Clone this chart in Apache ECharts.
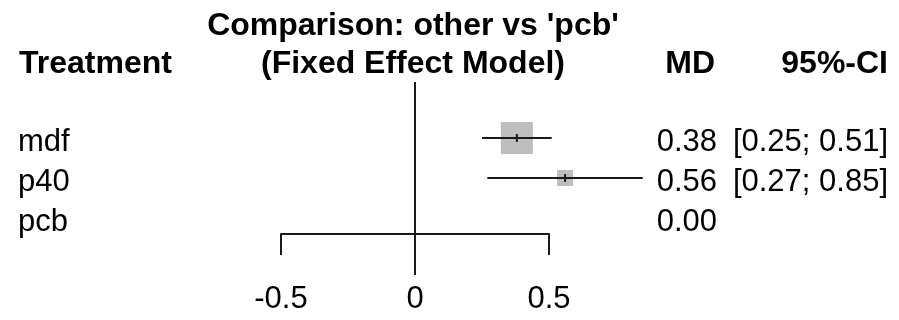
<!DOCTYPE html>
<html>
<head>
<meta charset="utf-8">
<script src="https://cdn.jsdelivr.net/npm/echarts@6/dist/echarts.min.js"></script>
<style>
html, body { margin: 0; padding: 0; background: #fff; }
#chart { width: 899px; height: 320px; }
</style>
</head>
<body>
<div id="chart"></div>
<script>
// data
const treatments = ['mdf', 'p40', 'pcb'];
const md = [0.38, 0.56, 0.00];
const ciLower = [0.25, 0.27, null];
const ciUpper = [0.51, 0.85, null];
const weights = [80, 20, null];
const xTicks = [-0.5, 0, 0.5];

const FONT = '"Liberation Sans", Arial, sans-serif';
const FS = 31;     // plain text
const FS_B = 32;   // bold headers
const INK = '#000';
const LINE = '#1a1a1a';

const chart = echarts.init(document.getElementById('chart'));
const maxW = Math.max(...weights.filter(w => w != null));

// one row per treatment: [estimate, row index]
const rows = treatments.map((t, i) => [md[i], i]);

function fmt(v) { return v.toFixed(2); }

function text(x, y, str, align, bold) {
  return {
    type: 'text',
    style: {
      x: x, y: y, text: str,
      font: bold ? 'bold ' + FS_B + 'px ' + FONT : FS + 'px ' + FONT,
      fill: INK, align: align, verticalAlign: 'middle'
    }
  };
}

const option = {
  animation: false,
  grid: { left: 281, right: 350, top: 82, bottom: 86 },
  xAxis: {
    type: 'value',
    min: xTicks[0],
    max: xTicks[xTicks.length - 1],
    interval: 0.5,
    axisLine: { show: true, onZero: false, lineStyle: { color: LINE, width: 2 } },
    axisTick: { show: true, length: 21, lineStyle: { color: LINE, width: 2 } },
    axisLabel: { color: INK, fontSize: FS, fontFamily: FONT, margin: 50 },
    splitLine: { show: false }
  },
  yAxis: { type: 'value', inverse: true, min: -1.4, max: 2.4, show: false },
  graphic: [
    text(413, 26, "Comparison: other vs 'pcb'", 'center', true),
    text(413, 64, '(Fixed Effect Model)', 'center', true),
    text(19, 64, 'Treatment', 'left', true),
    text(715, 64, 'MD', 'right', true),
    text(888, 64, '95%-CI', 'right', true)
  ],
  series: [
    {
      // line of no effect
      type: 'custom',
      clip: false,
      data: [[0]],
      renderItem: function (params, api) {
        const cs = params.coordSys;
        const x = api.coord([api.value(0), 0])[0];
        return {
          type: 'line',
          shape: { x1: x, y1: cs.y, x2: x, y2: cs.y + cs.height + 41 },
          style: { stroke: LINE, lineWidth: 2 }
        };
      }
    },
    {
      type: 'custom',
      clip: false,
      data: rows,
      renderItem: function (params, api) {
        const i = params.dataIndex;
        const c = api.coord([api.value(0), api.value(1)]);
        const y = c[1];
        const children = [];
        if (weights[i] != null) {
          const side = 32 * Math.sqrt(weights[i] / maxW);
          children.push({
            type: 'rect',
            shape: { x: c[0] - side / 2, y: y - side / 2, width: side, height: side },
            style: { fill: '#bebebe' }
          });
        }
        if (ciLower[i] != null) {
          const x1 = api.coord([ciLower[i], 0])[0];
          const x2 = api.coord([ciUpper[i], 0])[0];
          children.push({
            type: 'line',
            shape: { x1: x1, y1: y, x2: x2, y2: y },
            style: { stroke: LINE, lineWidth: 2 }
          });
          children.push({
            type: 'line',
            shape: { x1: c[0], y1: y - 4, x2: c[0], y2: y + 4 },
            style: { stroke: LINE, lineWidth: 2 }
          });
        }
        children.push(text(18, y + 4, treatments[i], 'left', false));
        children.push(text(717, y + 4, fmt(md[i]), 'right', false));
        if (ciLower[i] != null) {
          children.push(text(888, y + 4, '[' + fmt(ciLower[i]) + '; ' + fmt(ciUpper[i]) + ']', 'right', false));
        }
        return { type: 'group', children: children };
      }
    }
  ]
};

chart.setOption(option);
</script>
</body>
</html>
